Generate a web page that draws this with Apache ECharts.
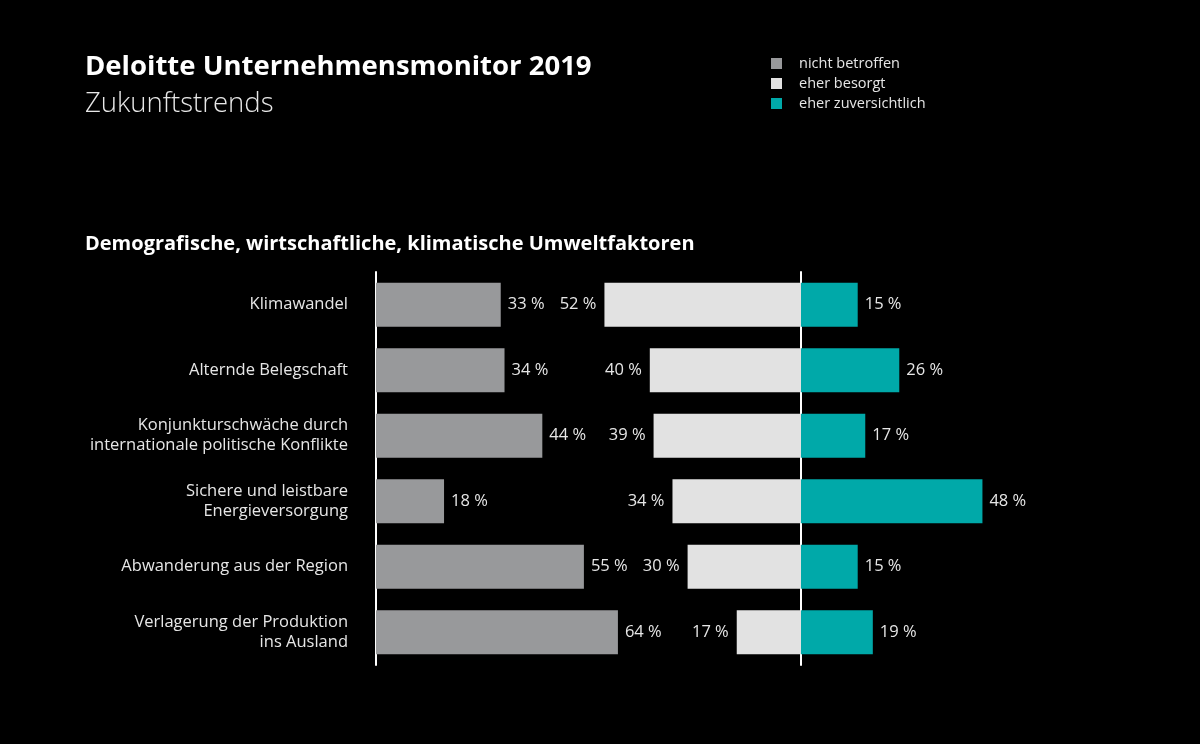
<!DOCTYPE html>
<html>
<head>
<meta charset="utf-8">
<script src="https://cdn.jsdelivr.net/npm/echarts@6/dist/echarts.min.js"></script>
<style>
html,body{margin:0;padding:0;background:#000;}
#c{width:1200px;height:744px;}
</style>
</head>
<body>
<div id="c"></div>
<script>
const categories = [
  "Klimawandel",
  "Alternde Belegschaft",
  "Konjunkturschwäche durch\ninternationale politische Konflikte",
  "Sichere und leistbare\nEnergieversorgung",
  "Abwanderung aus der Region",
  "Verlagerung der Produktion\nins Ausland"
];
const seriesNames = ["nicht betroffen", "eher besorgt", "eher zuversichtlich"];
const nichtBetroffen = [33, 34, 44, 18, 55, 64];
const eherBesorgt = [52, 40, 39, 34, 30, 17];
const eherZuversichtlich = [15, 26, 17, 48, 15, 19];

const FONT = '"Open Sans", "Noto Sans", sans-serif';
const PX = 3.78;
const COL_GREY = '#98999b';
const COL_WHITE = '#e2e2e2';
const COL_TEAL = '#00a9a9';
const TXT = '#e6e6e6';

const chart = echarts.init(document.getElementById('c'), null, {renderer: 'canvas'});
const lbl = (pos, dist) => ({
  show: true, position: pos, distance: dist,
  color: TXT, fontSize: 16.5, fontFamily: FONT,
  formatter: p => Math.abs(p.value) + ' %'
});
const gridTop = 272, gridH = 393;
const option = {
  backgroundColor: '#000',
  textStyle: {fontFamily: FONT},
  title: [
    {text: 'Deloitte Unternehmensmonitor 2019', left: 80, top: 48,
     textStyle: {color: '#fff', fontSize: 27.5, fontWeight: 'bold', fontFamily: FONT}},
    {text: 'Zukunftstrends', left: 80, top: 85,
     textStyle: {color: '#e8e8e8', fontSize: 27.5, fontWeight: 300, fontFamily: FONT}},
    {text: 'Demografische, wirtschaftliche, klimatische Umweltfaktoren', left: 80, top: 229,
     textStyle: {color: '#fff', fontSize: 20, fontWeight: 'bold', fontFamily: FONT}}
  ],
  legend: {
    orient: 'vertical', left: 771, top: 56, padding: 0, itemWidth: 11, itemHeight: 11, itemGap: 5,
    icon: 'rect', data: seriesNames,
    textStyle: {color: TXT, fontSize: 14.5, lineHeight: 15, fontFamily: FONT, padding: [0, 0, 0, 12]}
  },
  grid: [
    {left: 376, top: gridTop, height: gridH, width: 100 * PX},
    {left: 801 - 60 * PX, top: gridTop, height: gridH, width: 120 * PX}
  ],
  xAxis: [
    {type: 'value', gridIndex: 0, min: 0, max: 100, show: false},
    {type: 'value', gridIndex: 1, min: -60, max: 60, show: false}
  ],
  yAxis: [
    {type: 'category', gridIndex: 0, data: categories, inverse: true,
     axisLine: {show: true, lineStyle: {color: '#fff', width: 2}},
     axisTick: {show: false},
     axisLabel: {color: TXT, fontSize: 16.5, fontFamily: FONT, margin: 28, lineHeight: 20, align: 'right'}},
    {type: 'category', gridIndex: 1, data: categories, inverse: true,
     axisLine: {show: true, onZero: true, lineStyle: {color: '#fff', width: 2}},
     axisTick: {show: false}, axisLabel: {show: false}}
  ],
  series: [
    {name: seriesNames[0], type: 'bar', xAxisIndex: 0, yAxisIndex: 0, barWidth: 44,
     itemStyle: {color: COL_GREY}, data: nichtBetroffen, label: lbl('right', 7), z: 1},
    {name: seriesNames[1], type: 'bar', xAxisIndex: 1, yAxisIndex: 1, barWidth: 44, barGap: '-100%',
     itemStyle: {color: COL_WHITE}, data: eherBesorgt.map(v => -v), label: lbl('left', 8), z: 1},
    {name: seriesNames[2], type: 'bar', xAxisIndex: 1, yAxisIndex: 1, barWidth: 44, barGap: '-100%',
     itemStyle: {color: COL_TEAL}, data: eherZuversichtlich, label: lbl('right', 7), z: 1}
  ]
};
chart.setOption(option);
</script>
</body>
</html>
